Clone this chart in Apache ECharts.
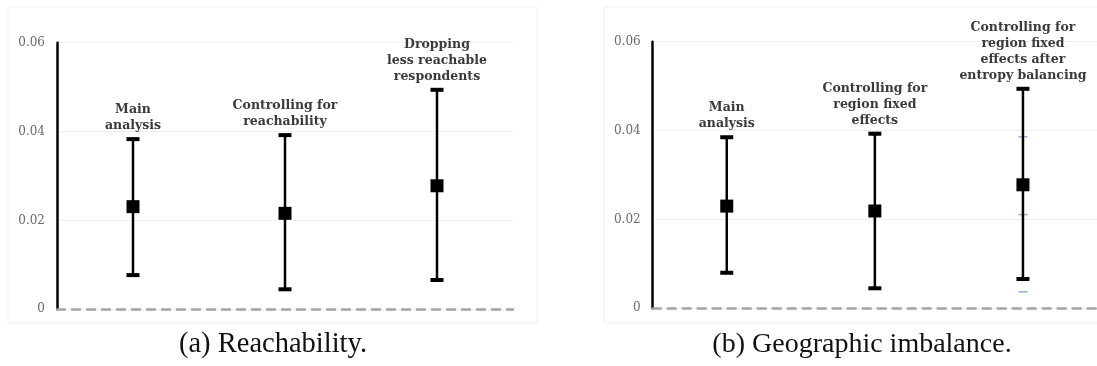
<!DOCTYPE html>
<html>
<head>
<meta charset="utf-8">
<script src="https://cdn.jsdelivr.net/npm/echarts@6/dist/echarts.min.js"></script>
<style>
html,body{margin:0;padding:0;background:#fff;}
#chart{width:1097px;height:366px;}
</style>
</head>
<body>
<div id="chart"></div>
<script>
// ---- data ----
const categoriesA = ['Main\nanalysis', 'Controlling for\nreachability', 'Dropping\nless reachable\nrespondents'];
const estimatesA = [0.0231, 0.0216, 0.0278];
const lowerA = [0.0077, 0.0045, 0.0066];
const upperA = [0.0383, 0.0392, 0.0494];

const categoriesB = ['Main\nanalysis', 'Controlling for\nregion fixed\neffects', 'Controlling for\nregion fixed\neffects after\nentropy balancing'];
const estimatesB = [0.0230, 0.0219, 0.0278];
const lowerB = [0.0080, 0.0045, 0.0066];
const upperB = [0.0385, 0.0393, 0.0494];

// faint secondary marks visible in panel (b)
const faintBIndex = [0, 0, 1, 1, 2, 2, 2];
const faintBValue = [0.0385, 0.0078, 0.0390, 0.0046, 0.0386, 0.0211, 0.0037];

const yTicks = [0, 0.02, 0.04, 0.06];
const captions = ['(a) Reachability.', '(b) Geographic imbalance.'];

// ---- chart ----
const chart = echarts.init(document.getElementById('chart'), null, {renderer: 'canvas'});

function makeErrorRenderer(cats) {
  return function (params, api) {
    const x = api.value(0), lo = api.value(1), hi = api.value(2);
    const pLo = api.coord([x, lo]);
    const pHi = api.coord([x, hi]);
    const half = 6.5;
    return {
      type: 'group',
      children: [
        {type: 'line', shape: {x1: pLo[0], y1: pLo[1], x2: pHi[0], y2: pHi[1]}, style: {stroke: '#000', lineWidth: 2.5}},
        {type: 'line', shape: {x1: pHi[0] - half, y1: pHi[1], x2: pHi[0] + half, y2: pHi[1]}, style: {stroke: '#000', lineWidth: 4}},
        {type: 'line', shape: {x1: pLo[0] - half, y1: pLo[1], x2: pLo[0] + half, y2: pLo[1]}, style: {stroke: '#000', lineWidth: 4}},
        {type: 'text', x: pHi[0], y: pHi[1] - 5,
          style: {text: cats[params.dataIndex], textAlign: 'center', textVerticalAlign: 'bottom',
            font: 'bold 12.5px "DejaVu Serif"', fill: '#3a3a3a', lineHeight: 16}}
      ]
    };
  };
}

function yAxisFor(gridIndex) {
  return {
    type: 'value', gridIndex: gridIndex,
    min: yTicks[0], max: yTicks[yTicks.length - 1], interval: yTicks[1] - yTicks[0],
    axisLine: {show: true, lineStyle: {color: '#000', width: 2.5}},
    axisTick: {show: false},
    axisLabel: {color: '#6b6b6b', fontFamily: 'DejaVu Serif', fontSize: 12, margin: 12,
      formatter: v => (v === 0 ? '0' : v.toFixed(2))},
    splitLine: {show: true, lineStyle: {color: '#f0f0f0', width: 1}}
  };
}
function xAxisFor(gridIndex, cats) {
  return {
    type: 'category', gridIndex: gridIndex, data: cats, boundaryGap: true,
    axisLine: {show: true, onZero: true, lineStyle: {color: '#a3a3a3', width: 2.5, type: [8, 7]}},
    axisTick: {show: false}, axisLabel: {show: false}, splitLine: {show: false}
  };
}

const option = {
  backgroundColor: '#fff',
  animation: false,
  grid: [
    {left: 57, top: 42.7, width: 456, height: 266.6},
    {left: 652.7, top: 41.7, width: 459, height: 266.6}
  ],
  xAxis: [xAxisFor(0, categoriesA), xAxisFor(1, categoriesB)],
  yAxis: [yAxisFor(0), yAxisFor(1)],
  graphic: [
    {type: 'rect', shape: {x: 8, y: 7, width: 529, height: 316}, style: {fill: 'none', stroke: '#f0f0f0', lineWidth: 1}, z: -1},
    {type: 'rect', shape: {x: 604, y: 7, width: 500, height: 316}, style: {fill: 'none', stroke: '#f0f0f0', lineWidth: 1}, z: -1},
    {type: 'text', x: 273, y: 345, style: {text: captions[0], textAlign: 'center', textVerticalAlign: 'middle', font: '28.5px "Liberation Serif"', fill: '#111'}},
    {type: 'text', x: 862, y: 345, style: {text: captions[1], textAlign: 'center', textVerticalAlign: 'middle', font: '28px "Liberation Serif"', fill: '#111'}}
  ],
  series: [
    {
      type: 'custom', xAxisIndex: 0, yAxisIndex: 0,
      renderItem: makeErrorRenderer(categoriesA),
      encode: {x: 0, y: [1, 2]},
      data: categoriesA.map((c, i) => [i, lowerA[i], upperA[i]]),
      z: 3
    },
    {
      type: 'custom', xAxisIndex: 1, yAxisIndex: 1,
      renderItem: makeErrorRenderer(categoriesB),
      encode: {x: 0, y: [1, 2]},
      data: categoriesB.map((c, i) => [i, lowerB[i], upperB[i]]),
      z: 3
    },
    {
      type: 'scatter', xAxisIndex: 1, yAxisIndex: 1,
      symbol: 'rect', symbolSize: [9, 1.5],
      itemStyle: {opacity: 1, color: function (p) { return faintBIndex[p.dataIndex] === 1 ? '#6a9a3a' : '#8fb0dc'; }},
      data: faintBIndex.map((c, i) => [c, faintBValue[i]]),
      z: 2
    },
    {
      type: 'scatter', xAxisIndex: 0, yAxisIndex: 0,
      symbol: 'rect', symbolSize: 13, itemStyle: {color: '#000', opacity: 1},
      data: estimatesA.map((v, i) => [i, v]), z: 5
    },
    {
      type: 'scatter', xAxisIndex: 1, yAxisIndex: 1,
      symbol: 'rect', symbolSize: 13, itemStyle: {color: '#000', opacity: 1},
      data: estimatesB.map((v, i) => [i, v]), z: 5
    }
  ]
};
chart.setOption(option);
</script>
</body>
</html>
